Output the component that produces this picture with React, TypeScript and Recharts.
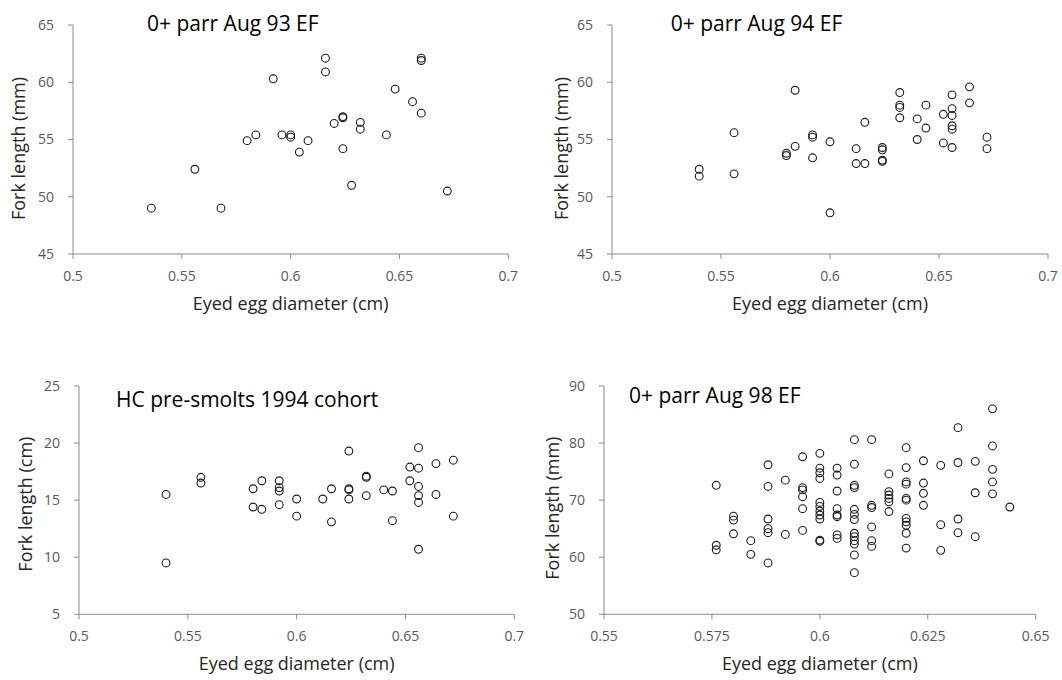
import React from "react";
import { ScatterChart, Scatter, XAxis, YAxis } from "recharts";

const FONT = "'Open Sans', 'Noto Sans', sans-serif";

// [egg diameter (cm), fork length]
const aug93: [number, number][] = [
  [0.536, 49.0], [0.556, 52.4], [0.568, 49.0], [0.58, 54.9], [0.584, 55.4],
  [0.592, 60.3], [0.596, 55.4], [0.6, 55.4], [0.6, 55.2], [0.604, 53.9],
  [0.608, 54.9], [0.616, 62.1], [0.616, 60.9], [0.62, 56.4], [0.624, 57.0],
  [0.624, 56.9], [0.624, 54.2], [0.628, 51.0], [0.632, 56.5], [0.632, 55.9],
  [0.644, 55.4], [0.648, 59.4], [0.656, 58.3], [0.66, 62.1], [0.66, 61.9],
  [0.66, 57.3], [0.672, 50.5],
];

const aug94: [number, number][] = [
  [0.54, 52.4], [0.54, 51.8], [0.556, 55.6], [0.556, 52.0], [0.58, 53.8],
  [0.58, 53.6], [0.584, 54.4], [0.584, 59.3], [0.592, 55.4], [0.592, 55.2],
  [0.592, 53.4], [0.6, 54.8], [0.6, 48.6], [0.612, 54.2], [0.612, 52.9],
  [0.616, 52.9], [0.616, 56.5], [0.624, 54.3], [0.624, 54.1], [0.624, 53.2],
  [0.624, 53.1], [0.632, 59.1], [0.632, 58.0], [0.632, 57.8], [0.632, 56.9],
  [0.64, 56.8], [0.64, 55.0], [0.644, 58.0], [0.644, 56.0], [0.652, 57.2],
  [0.652, 54.7], [0.656, 58.9], [0.656, 57.7], [0.656, 57.1], [0.656, 56.2],
  [0.656, 55.9], [0.656, 54.3], [0.664, 59.6], [0.664, 58.2], [0.672, 55.2],
  [0.672, 54.2],
];

const hc1994: [number, number][] = [
  [0.54, 15.5], [0.54, 9.5], [0.556, 17.0], [0.556, 16.5], [0.58, 16.0],
  [0.58, 14.4], [0.584, 16.7], [0.584, 14.2], [0.592, 16.7], [0.592, 16.1],
  [0.592, 15.8], [0.592, 14.6], [0.6, 15.1], [0.6, 13.6], [0.612, 15.1],
  [0.616, 16.0], [0.616, 13.1], [0.624, 19.3], [0.624, 16.0], [0.624, 15.9],
  [0.624, 15.1], [0.632, 17.1], [0.632, 17.0], [0.632, 15.4], [0.64, 15.9],
  [0.644, 15.8], [0.644, 13.2], [0.652, 17.9], [0.652, 16.7], [0.656, 19.6],
  [0.656, 17.8], [0.656, 16.2], [0.656, 15.4], [0.656, 14.8], [0.656, 10.7],
  [0.664, 18.2], [0.664, 15.5], [0.672, 18.5], [0.672, 13.6],
];

const aug98: [number, number][] = [
  [0.576, 72.6], [0.576, 62.1], [0.576, 61.3],
  [0.58, 67.2], [0.58, 66.5], [0.58, 64.1],
  [0.584, 62.9], [0.584, 60.5],
  [0.588, 76.2], [0.588, 72.4], [0.588, 66.7], [0.588, 65.0], [0.588, 64.3], [0.588, 59.0],
  [0.592, 73.5], [0.592, 64.0],
  [0.596, 77.6], [0.596, 72.2], [0.596, 71.8], [0.596, 70.6], [0.596, 68.5], [0.596, 64.7],
  [0.6, 78.2], [0.6, 75.6], [0.6, 74.8], [0.6, 73.8], [0.6, 69.6], [0.6, 68.9],
  [0.6, 68.1], [0.6, 67.4], [0.6, 66.7], [0.6, 63.0], [0.6, 62.8],
  [0.604, 75.6], [0.604, 74.4], [0.604, 71.6], [0.604, 68.5], [0.604, 67.4],
  [0.604, 67.1], [0.604, 63.9], [0.604, 63.3],
  [0.608, 80.6], [0.608, 76.3], [0.608, 72.6], [0.608, 72.2], [0.608, 68.4],
  [0.608, 67.5], [0.608, 66.6], [0.608, 64.2], [0.608, 63.6], [0.608, 62.9],
  [0.608, 62.3], [0.608, 60.4], [0.608, 57.3],
  [0.612, 80.6], [0.612, 69.1], [0.612, 68.7], [0.612, 65.3], [0.612, 62.9], [0.612, 61.9],
  [0.616, 74.6], [0.616, 71.5], [0.616, 70.9], [0.616, 70.3], [0.616, 69.7], [0.616, 68.0],
  [0.62, 79.2], [0.62, 75.7], [0.62, 73.2], [0.62, 72.8], [0.62, 70.3], [0.62, 70.0],
  [0.62, 66.8], [0.62, 66.2], [0.62, 65.6], [0.62, 64.2], [0.62, 61.6],
  [0.624, 76.9], [0.624, 73.0], [0.624, 71.2], [0.624, 69.1],
  [0.628, 76.1], [0.628, 65.7], [0.628, 61.2],
  [0.632, 82.7], [0.632, 76.6], [0.632, 66.7], [0.632, 64.3],
  [0.636, 76.8], [0.636, 71.3], [0.636, 63.6],
  [0.64, 86.0], [0.64, 79.5], [0.64, 75.4], [0.64, 73.2], [0.64, 71.1],
  [0.644, 68.8],
];

const xTicksA = [0.5, 0.55, 0.6, 0.65, 0.7];
const xTicksB = [0.55, 0.575, 0.6, 0.625, 0.65];
const yTicksMm = [45, 50, 55, 60, 65];
const yTicksCm = [5, 10, 15, 20, 25];
const yTicks98 = [50, 60, 70, 80, 90];

const Ring = (props: any) => (
  <circle cx={props.cx} cy={props.cy} r={3.9} fill="none" stroke="#1a1a1a" strokeWidth={1.1} />
);

type Box = { left: number; top: number; right: number; bottom: number };

const Panel = ({
  title, titleX, titleY, data, xDomain, xTicks, yDomain, yTicks, yLabel, box, yLabelGap, yLabelShift,
}: {
  title: string; titleX: number; titleY: number; data: [number, number][];
  xDomain: [number, number]; xTicks: number[]; yDomain: [number, number]; yTicks: number[];
  yLabel: string; box: Box; yLabelGap: number; yLabelShift: number;
}) => {
  const padL = 80, padT = 30, padR = 20, padB = 80;
  const w = box.right - box.left + padL + padR;
  const h = box.bottom - box.top + padT + padB;
  const rows = data.map(([x, y]) => ({ x, y }));
  const left = box.left - padL;
  const top = box.top - padT;
  return (
    <div style={{ position: "absolute", left, top, width: w, height: h }}>
      <ScatterChart width={w} height={h} margin={{ top: padT, right: padR, bottom: padB - 30, left: padL - 50 }}>
        <XAxis
          type="number"
          dataKey="x"
          domain={xDomain}
          ticks={xTicks}
          allowDataOverflow
          height={30}
          tickSize={5}
          tickMargin={12}
          stroke="#8c8c8c"
          tick={{ fill: "#595959", fontSize: 14, fontFamily: FONT }}
          label={(p: any) => {
            const vb = p.viewBox;
            return (
              <text x={vb.x + vb.width / 2} y={vb.y + 56} textAnchor="middle" fill="#262626" fontSize={18} fontFamily={FONT}>
                Eyed egg diameter (cm)
              </text>
            );
          }}
        />
        <YAxis
          type="number"
          dataKey="y"
          domain={yDomain}
          ticks={yTicks}
          allowDataOverflow
          width={50}
          tickSize={5}
          tickMargin={14}
          stroke="#8c8c8c"
          tick={{ fill: "#595959", fontSize: 14, fontFamily: FONT }}
          label={(p: any) => {
            const vb = p.viewBox;
            const cx = vb.x + vb.width - yLabelGap;
            const cy = vb.y + vb.height / 2 + yLabelShift;
            return (
              <text
                transform={`translate(${cx},${cy}) rotate(-90)`}
                textAnchor="middle"
                dominantBaseline="central"
                fill="#262626"
                fontSize={18}
                fontFamily={FONT}
              >
                {yLabel}
              </text>
            );
          }}
        />
        <Scatter data={rows} shape={Ring} isAnimationActive={false} />
      </ScatterChart>
      <svg style={{ position: "absolute", left: 0, top: 0, pointerEvents: "none" }} width={w} height={h}>
        <text x={titleX - left} y={titleY - top} fontSize={21} fontFamily={FONT} fill="#000">
          {title}
        </text>
      </svg>
    </div>
  );
};

export default function App() {
  return (
    <div style={{ position: "absolute", left: 0, top: 0, width: 1062, height: 680, background: "#fff" }}>
      <Panel
        title="0+ parr Aug 93 EF" titleX={147} titleY={31.5}
        data={aug93} xDomain={[0.5, 0.7]} xTicks={xTicksA} yDomain={[45, 65]} yTicks={yTicksMm}
        yLabel="Fork length (mm)" box={{ left: 73, top: 25.3, right: 508.3, bottom: 254.3 }}
        yLabelGap={55} yLabelShift={9}
      />
      <Panel
        title="0+ parr Aug 94 EF" titleX={671} titleY={31.5}
        data={aug94} xDomain={[0.5, 0.7]} xTicks={xTicksA} yDomain={[45, 65]} yTicks={yTicksMm}
        yLabel="Fork length (mm)" box={{ left: 612.3, top: 25.3, right: 1048.3, bottom: 254.3 }}
        yLabelGap={51} yLabelShift={9}
      />
      <Panel
        title="HC pre-smolts 1994 cohort" titleX={116} titleY={406.5}
        data={hc1994} xDomain={[0.5, 0.7]} xTicks={xTicksA} yDomain={[5, 25]} yTicks={yTicksCm}
        yLabel="Fork length (cm)" box={{ left: 79, top: 386, right: 514.3, bottom: 614.3 }}
        yLabelGap={54} yLabelShift={4}
      />
      <Panel
        title="0+ parr Aug 98 EF" titleX={629} titleY={403}
        data={aug98} xDomain={[0.55, 0.65]} xTicks={xTicksB} yDomain={[50, 90]} yTicks={yTicks98}
        yLabel="Fork length (mm)" box={{ left: 604, top: 386, right: 1035.7, bottom: 614.3 }}
        yLabelGap={52} yLabelShift={8}
      />
    </div>
  );
}
